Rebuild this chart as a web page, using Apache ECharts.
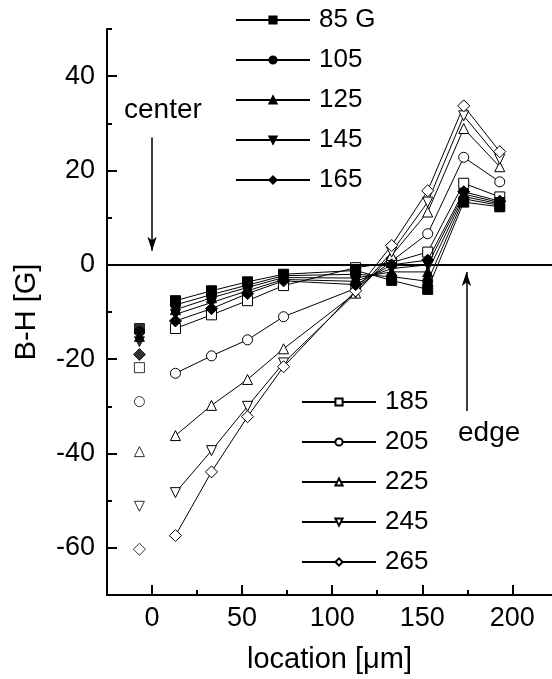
<!DOCTYPE html>
<html>
<head>
<meta charset="utf-8">
<script src="https://cdn.jsdelivr.net/npm/echarts@6/dist/echarts.min.js"></script>
<style>
  html, body { margin: 0; padding: 0; background: #fff; }
  #chart { width: 552px; height: 679px; }
</style>
</head>
<body>
<div id="chart"></div>
<script>
// location of the measuring points [um]
const locations = [-7, 13, 33, 53, 73, 113, 133, 153, 173, 193]

// applied field H and the B-H values
const names = ['85 G', '105', '125', '145', '165', '185', '205', '225', '245', '265']
const h85  = [-13.5, -7.6, -5.5, -3.6, -2.0, -1.2, -3.3, -5.2, 13.3, 12.3]
const h105 = [-14.2, -8.5, -6.3, -4.3, -2.3, -2.0, -2.5, -3.5, 14.0, 12.6]
const h125 = [-15.2, -9.5, -7.0, -4.8, -2.7, -2.8, -1.5, -1.5, 14.5, 12.9]
const h145 = [-16.3, -10.5, -8.0, -5.5, -3.1, -3.5, -0.8, 0.0, 15.0, 13.2]
const h165 = [-19.0, -11.9, -9.3, -6.1, -3.4, -4.2, 0.0, 1.0, 15.5, 13.5]
const h185 = [-21.8, -13.5, -10.6, -7.6, -4.4, -0.6, 0.5, 2.7, 17.3, 14.4]
const h205 = [-29.0, -23.0, -19.3, -15.9, -11.0, -5.0, 0.8, 6.6, 22.8, 17.6]
const h225 = [-39.6, -36.2, -29.8, -24.3, -17.8, -6.0, 2.0, 11.2, 28.9, 20.8]
const h245 = [-51.2, -48.3, -39.4, -30.0, -20.8, -6.0, 2.7, 13.3, 31.6, 22.4]
const h265 = [-60.3, -57.4, -43.9, -32.2, -21.6, -5.5, 4.1, 15.7, 33.7, 24.0]
const values = [h85, h105, h125, h145, h165, h185, h205, h225, h245, h265]

const xLabels = [0, 50, 100, 150, 200]
const xMinor = [25, 75, 125, 175]
const yLabels = [-60, -40, -20, 0, 20, 40]
const yMinor = [-50, -30, -10, 10, 30, 50]

const downTri = 'path://M0,0 L10,0 L5,9 Z'
const shapes = ['rect', 'circle', 'triangle', downTri, 'diamond']

const font = 'Liberation Sans, Arial, sans-serif'
const myChart = echarts.init(document.getElementById('chart'))

function buildSeries() {
  let arr = []
  values.forEach((vals, i) => {
    const open = i >= 5
    const style = {
      color: open ? '#fff' : '#000',
      borderColor: '#000',
      borderWidth: 1
    }
    const symbol = shapes[i % 5]
    const size = symbol === 'diamond' ? 12 : 10
    // the first point (x = -7) is not joined to the others
    arr.push({
      name: names[i],
      type: 'line',
      data: locations.slice(1).map((x, k) => [x, vals[k + 1]]),
      symbol: symbol,
      symbolSize: size,
      showAllSymbol: true,
      lineStyle: { color: '#000', width: 1 },
      itemStyle: style,
      z: open ? 3 : 4,
      animation: false
    })
    arr.push({
      name: names[i],
      type: 'scatter',
      data: [[locations[0], vals[0]]],
      symbol: symbol,
      symbolSize: size,
      itemStyle: style,
      z: open ? 3 : 4,
      animation: false
    })
  })
  // zero line and the two arrows
  arr.push({
    type: 'line',
    data: [],
    silent: true,
    animation: false,
    markLine: {
      silent: true,
      animation: false,
      label: { show: false },
      data: [
        [{ coord: [-25, 0], symbol: 'none' }, { coord: [222, 0], symbol: 'none', lineStyle: { width: 2, color: '#000', type: 'solid' } }],
        [{ coord: [0, 27], symbol: 'none' }, { coord: [0, 3], symbol: 'arrow', symbolSize: [7, 14], lineStyle: { width: 1.5, color: '#000', type: 'solid' } }],
        [{ coord: [174.5, -31], symbol: 'none' }, { coord: [174.5, -1.5], symbol: 'arrow', symbolSize: [7, 14], lineStyle: { width: 1.5, color: '#000', type: 'solid' } }]
      ]
    }
  })
  return arr
}

const legendBase = {
  orient: 'vertical',
  itemWidth: 74,
  itemHeight: 9,
  itemGap: 14,
  selectedMode: false,
  textStyle: { fontFamily: font, fontSize: 26, color: '#000', lineHeight: 26, padding: [0, 0, 0, 4] },
  padding: 0
}

const tickLabel = { color: '#000', fontFamily: font, fontSize: 27 }

const option = {
  backgroundColor: '#fff',
  grid: { left: 107, right: 0, top: 29, bottom: 82 },
  legend: [
    Object.assign({}, legendBase, { data: names.slice(0, 5), left: 235, top: 7 }),
    Object.assign({}, legendBase, { data: names.slice(5), left: 301, top: 389 })
  ],
  xAxis: [
    {
      type: 'value',
      min: -25,
      max: 222,
      name: 'location [\u03bcm]',
      nameLocation: 'middle',
      nameGap: 50,
      nameTextStyle: { color: '#000', fontFamily: font, fontSize: 29 },
      axisLine: { show: true, onZero: false, lineStyle: { color: '#000', width: 2 } },
      axisTick: { show: true, inside: true, length: 10, lineStyle: { color: '#000', width: 2 }, customValues: xLabels },
      axisLabel: Object.assign({ margin: 10, customValues: xLabels }, tickLabel),
      splitLine: { show: false }
    },
    {
      type: 'value',
      min: -25,
      max: 222,
      position: 'bottom',
      axisLine: { show: false, onZero: false },
      axisTick: { show: true, inside: true, length: 5, lineStyle: { color: '#000', width: 2 }, customValues: xMinor },
      axisLabel: { show: false },
      splitLine: { show: false }
    }
  ],
  yAxis: [
    {
      type: 'value',
      min: -70,
      max: 50,
      name: 'B-H [G]',
      nameLocation: 'middle',
      nameGap: 66,
      nameRotate: 90,
      nameTextStyle: { color: '#000', fontFamily: font, fontSize: 29 },
      axisLine: { show: true, onZero: false, lineStyle: { color: '#000', width: 2 } },
      axisTick: { show: true, inside: true, length: 10, lineStyle: { color: '#000', width: 2 }, customValues: yLabels },
      axisLabel: Object.assign({ margin: 12, customValues: yLabels }, tickLabel),
      splitLine: { show: false }
    },
    {
      type: 'value',
      min: -70,
      max: 50,
      position: 'left',
      axisLine: { show: false, onZero: false },
      axisTick: { show: true, inside: true, length: 5, lineStyle: { color: '#000', width: 2 }, customValues: yMinor },
      axisLabel: { show: false },
      splitLine: { show: false }
    }
  ],
  graphic: [
    { type: 'text', x: 124, y: 110, style: { text: 'center', fontFamily: font, fontSize: 28, fill: '#000', textVerticalAlign: 'middle' } },
    { type: 'text', x: 458, y: 433, style: { text: 'edge', fontFamily: font, fontSize: 28, fill: '#000', textVerticalAlign: 'middle' } }
  ],
  series: buildSeries()
}

myChart.setOption(option)
</script>
</body>
</html>
